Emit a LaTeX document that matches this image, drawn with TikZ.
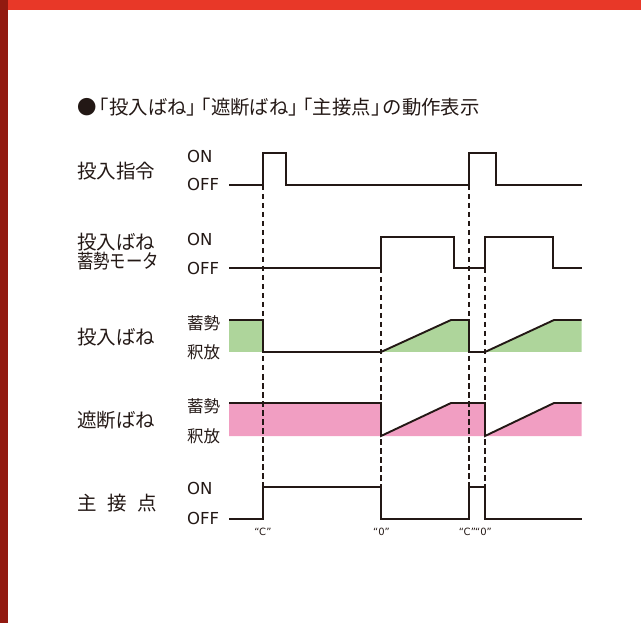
\documentclass[tikz,border=0pt]{standalone}
\usepackage{fontspec}
\setmainfont{Noto Sans CJK JP}
\newfontfamily\latinfont{DejaVu Sans}
\definecolor{topred}{HTML}{E83828}
\definecolor{sidered}{HTML}{921A10}
\definecolor{ink}{HTML}{231815}
\definecolor{chgreen}{HTML}{AED59B}
\definecolor{trpink}{HTML}{F19EC2}
\begin{document}
\begin{tikzpicture}[x=1pt,y=-1pt,
rowlbl/.style={anchor=west,inner sep=0pt,text=ink,font=\fontsize{19.5}{19.5}\selectfont},
lvllbl/.style={anchor=west,inner sep=0pt,text=ink,font=\fontsize{16.5}{17}\selectfont},
onoff/.style={anchor=west,inner sep=0pt,text=ink,font=\latinfont\fontsize{16.5}{17}\selectfont},
edgelbl/.style={inner sep=0pt,text=ink,font=\latinfont\fontsize{10}{11}\selectfont},
sig/.style={draw=ink,line width=1.9pt},
guide/.style={draw=ink,line width=1.25pt,dash pattern=on 5.5pt off 3.5pt}
]
\useasboundingbox (0,0) rectangle (641,623);
%% Frame
\fill[topred](0,0) rectangle (641,10);
\fill[sidered](0,0) rectangle (8,623);
%% Title
\node[anchor=west,inner sep=0pt,text=ink,font=\fontsize{19.4}{19.4}\selectfont]at(77,107)(title)
{●\hspace{-.35em}「投入ばね」\hspace{-.75em}「遮断ばね」\hspace{-.75em}「主接点」\hspace{-.4em}の動作表示};
%% Row names
\node[rowlbl]at(77,171)(cmd){投入指令};
\node[rowlbl]at(77,242.5)(mot1){投入ばね};
\node[rowlbl]at(77,261)(mot2){\scalebox{.84}[1]{蓄勢モータ}};
\node[rowlbl]at(77,337)(csp){投入ばね};
\node[rowlbl]at(77,420)(tsp){遮断ばね};
\node[rowlbl]at(77,503)(mc){主\hspace{.55em}接\hspace{.55em}点};
%% Levels
\node[onoff]at(187,156)(cmdon){ON};
\node[onoff]at(187,184)(cmdoff){OFF};
\node[onoff]at(187,239)(moton){ON};
\node[onoff]at(187,268)(motoff){OFF};
\node[lvllbl]at(187,323)(cspc){蓄勢};
\node[lvllbl]at(187,352)(cspr){釈放};
\node[lvllbl]at(187,406)(tspc){蓄勢};
\node[lvllbl]at(187,436)(tspr){釈放};
\node[onoff]at(187,488)(mcon){ON};
\node[onoff]at(187,518)(mcoff){OFF};
%% Spring fills
\fill[chgreen](229,320) rectangle (263,352);
\fill[chgreen](381,352)--(451,320)--(469,320)--(469,352)--cycle;
\fill[chgreen](485,352)--(554,320)--(581.5,320)--(581.5,352)--cycle;
\fill[trpink](229,403)--(381,403)--(381,436)--(451,403)--(485,403)--(485,436)
--(554,403)--(581.5,403)--(581.5,436)--(229,436)--cycle;
%% Timing guides
\draw[guide](263,185)--(263,487);
\draw[guide](381,268)--(381,487);
\draw[guide](469,185)--(469,487);
\draw[guide](485,268)--(485,487);
%% Signals
\draw[sig](229,185)-|(263,153)-|(286,185)-|(469,153)-|(496,185)--(581.5,185);
\draw[sig](229,268)-|(381,237)-|(454,268)-|(485,237)-|(553,268)--(581.5,268);
\draw[sig](229,320)--(263,320)--(263,352)--(381,352)--(451,320)--(469,320)
--(469,352)--(485,352)--(554,320)--(581.5,320);
\draw[sig](229,403)--(381,403)--(381,436)--(451,403)--(485,403)--(485,436)
--(554,403)--(581.5,403);
\draw[sig](229,519)-|(263,487)-|(381,519)-|(469,487)-|(485,519)--(581.5,519);
%% Edge marks
\node[edgelbl]at(263,532)(e1){“C”};
\node[edgelbl]at(381.5,532)(e2){“0”};
\node[edgelbl]at(467.5,532)(e3){“C”};
\node[edgelbl]at(483.5,532)(e4){“0”};
\end{tikzpicture}
\end{document}
